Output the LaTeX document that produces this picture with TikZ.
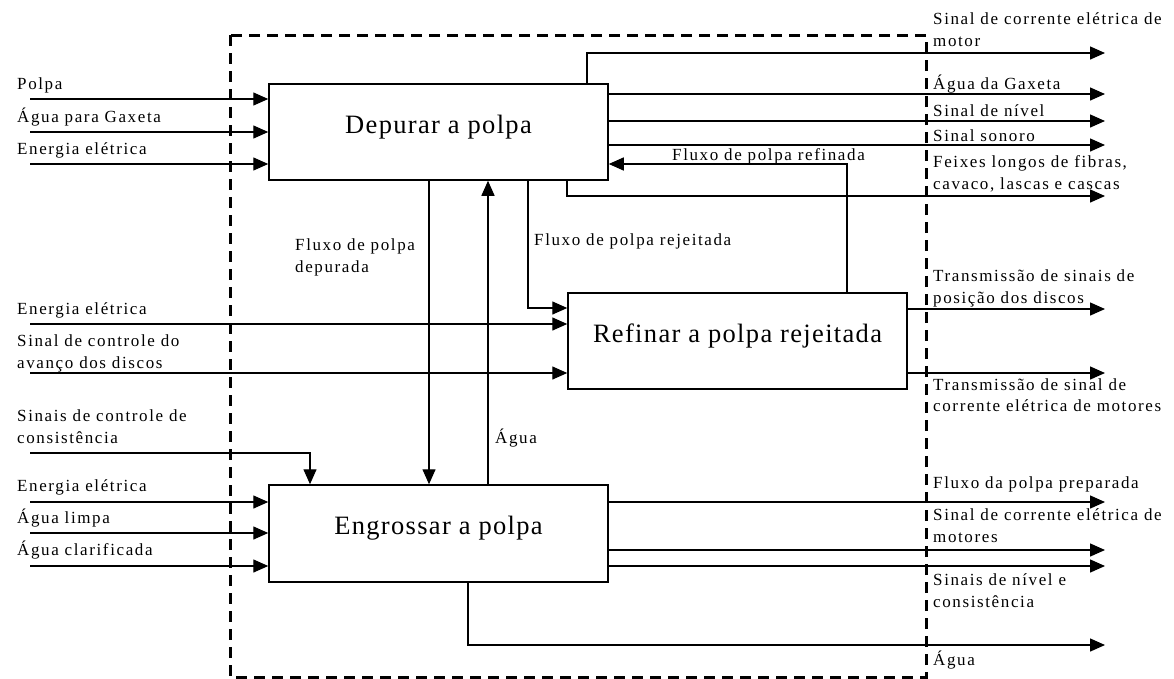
\documentclass[tikz,border=0pt]{standalone}
\usepackage{fontspec}
\setmainfont{Liberation Serif}
\usetikzlibrary{arrows.meta}
\newfontfamily\lblfamily[LetterSpace=9.5]{Liberation Serif}
\newfontfamily\ttlfamily[LetterSpace=5]{Liberation Serif}
\newcommand{\lblfont}{\lblfamily\fontsize{17}{21.5}\selectfont}
\newcommand{\ttlfont}{\ttlfamily\fontsize{26.5}{30}\selectfont}
\begin{document}
\begin{tikzpicture}[x=1pt,y=-1pt,
  box/.style={draw, line width=1.5pt, minimum width=339pt, inner sep=0pt},
  ttl/.style={font=\ttlfont, anchor=base, inner sep=0pt},
  lbl/.style={font=\lblfont, anchor=base west, inner sep=0pt, align=left},
  flow/.style={draw, line width=1.4pt, -{Triangle[length=15pt,width=13pt]}},
  frame/.style={draw, line width=3pt, dash pattern=on 11pt off 7pt}]
\useasboundingbox (0,0) rectangle (1174,678);

% system boundary
\draw[frame] (230,35) rectangle (926,677);

% activity boxes
\node[box, minimum height=96pt] (dep) at (438.5,132) {};
\node[box, minimum height=96pt] (ref) at (737.5,341) {};
\node[box, minimum height=97pt] (eng) at (438.5,533.5) {};
\node[ttl] (depT) at (438.5,133) {Depurar a polpa};
\node[ttl] (refT) at (737.5,342) {Refinar a polpa rejeitada};
\node[ttl] (engT) at (438.5,534.5) {Engrossar a polpa};

% free ends of the connectors
\coordinate (iPolpa) at (30,99);
\coordinate (iGax) at (30,132);
\coordinate (iEn1) at (30,164);
\coordinate (iEn2) at (30,324);
\coordinate (iAv) at (30,373);
\coordinate (iCons) at (30,453);
\coordinate (iEn3) at (30,502);
\coordinate (iLimpa) at (30,533);
\coordinate (iClar) at (30,566);
\coordinate (oMot) at (1105,53);
\coordinate (oGax) at (1105,94);
\coordinate (oNiv) at (1105,121);
\coordinate (oSon) at (1105,145);
\coordinate (oFei) at (1105,196);
\coordinate (oPos) at (1105,309);
\coordinate (oCor) at (1105,373);
\coordinate (oPrep) at (1105,502);
\coordinate (oMots) at (1105,550);
\coordinate (oNivC) at (1105,566);
\coordinate (oAgua) at (1105,645);

% inputs
\draw[flow] (iPolpa) -- (iPolpa -| dep.west);
\draw[flow] (iGax) -- (iGax -| dep.west);
\draw[flow] (iEn1) -- (iEn1 -| dep.west);
\draw[flow] (iEn2) -- (iEn2 -| ref.west);
\draw[flow] (iAv) -- (iAv -| ref.west);
\draw[flow] (iCons) -- (310,453) -- (310,0 |- eng.north);
\draw[flow] (iEn3) -- (iEn3 -| eng.west);
\draw[flow] (iLimpa) -- (iLimpa -| eng.west);
\draw[flow] (iClar) -- (iClar -| eng.west);

% labels are anchored at the baseline of their last line
\node[lbl] (lPolpa) at (17,89) {Polpa};
\node[lbl] (lGax) at (17,122) {Água para Gaxeta};
\node[lbl] (lEn1) at (17,154) {Energia elétrica};
\node[lbl] (lEn2) at (17,314) {Energia elétrica};
\node[lbl] (lAv) at (17,368) {Sinal de controle do\\avanço dos discos};
\node[lbl] (lCons) at (17,443) {Sinais de controle de\\consistência};
\node[lbl] (lEn3) at (17,491) {Energia elétrica};
\node[lbl] (lLimpa) at (17,523) {Água limpa};
\node[lbl] (lClar) at (17,555) {Água clarificada};

% flows between the activities
\draw[flow] (429,0 |- dep.south) -- (429,0 |- eng.north);
\draw[flow] (488,0 |- eng.north) -- (488,0 |- dep.south);
\draw[flow] (528,0 |- dep.south) -- (528,308) -- (ref.west |- 0,308);
\draw[flow] (847,0 |- ref.north) -- (847,164) -- (dep.east |- 0,164);

\node[lbl] (lDep) at (295,272) {Fluxo de polpa\\depurada};
\node[lbl] (lRej) at (534,245) {Fluxo de polpa rejeitada};
\node[lbl] (lRef) at (672,160) {Fluxo de polpa refinada};
\node[lbl] (lAg) at (495,443) {Água};

% outputs
\draw[flow] (587,0 |- dep.north) -- (587,53) -- (oMot);
\draw[flow] (dep.east |- oGax) -- (oGax);
\draw[flow] (dep.east |- oNiv) -- (oNiv);
\draw[flow] (dep.east |- oSon) -- (oSon);
\draw[flow] (567,0 |- dep.south) -- (567,196) -- (oFei);
\draw[flow] (ref.east |- oPos) -- (oPos);
\draw[flow] (ref.east |- oCor) -- (oCor);
\draw[flow] (eng.east |- oPrep) -- (oPrep);
\draw[flow] (eng.east |- oMots) -- (oMots);
\draw[flow] (eng.east |- oNivC) -- (oNivC);
\draw[flow] (468,0 |- eng.south) -- (468,645) -- (oAgua);

\node[lbl] (lMot) at (933,46) {Sinal de corrente elétrica de\\motor};
\node[lbl] (lGaxO) at (933,89) {Água da Gaxeta};
\node[lbl] (lNiv) at (933,116) {Sinal de nível};
\node[lbl] (lSon) at (933,141) {Sinal sonoro};
\node[lbl] (lFei) at (933,189) {Feixes longos de fibras,\\cavaco, lascas e cascas};
\node[lbl] (lPos) at (933,303) {Transmissão de sinais de\\posição dos discos};
\node[lbl] (lCor) at (933,411.5) {Transmissão de sinal de\\corrente elétrica de motores};
\node[lbl] (lPrep) at (933,488) {Fluxo da polpa preparada};
\node[lbl] (lMots) at (933,542) {Sinal de corrente elétrica de\\motores};
\node[lbl] (lNivC) at (933,607) {Sinais de nível e\\consistência};
\node[lbl] (lAguaO) at (933,665) {Água};
\end{tikzpicture}
\end{document}
